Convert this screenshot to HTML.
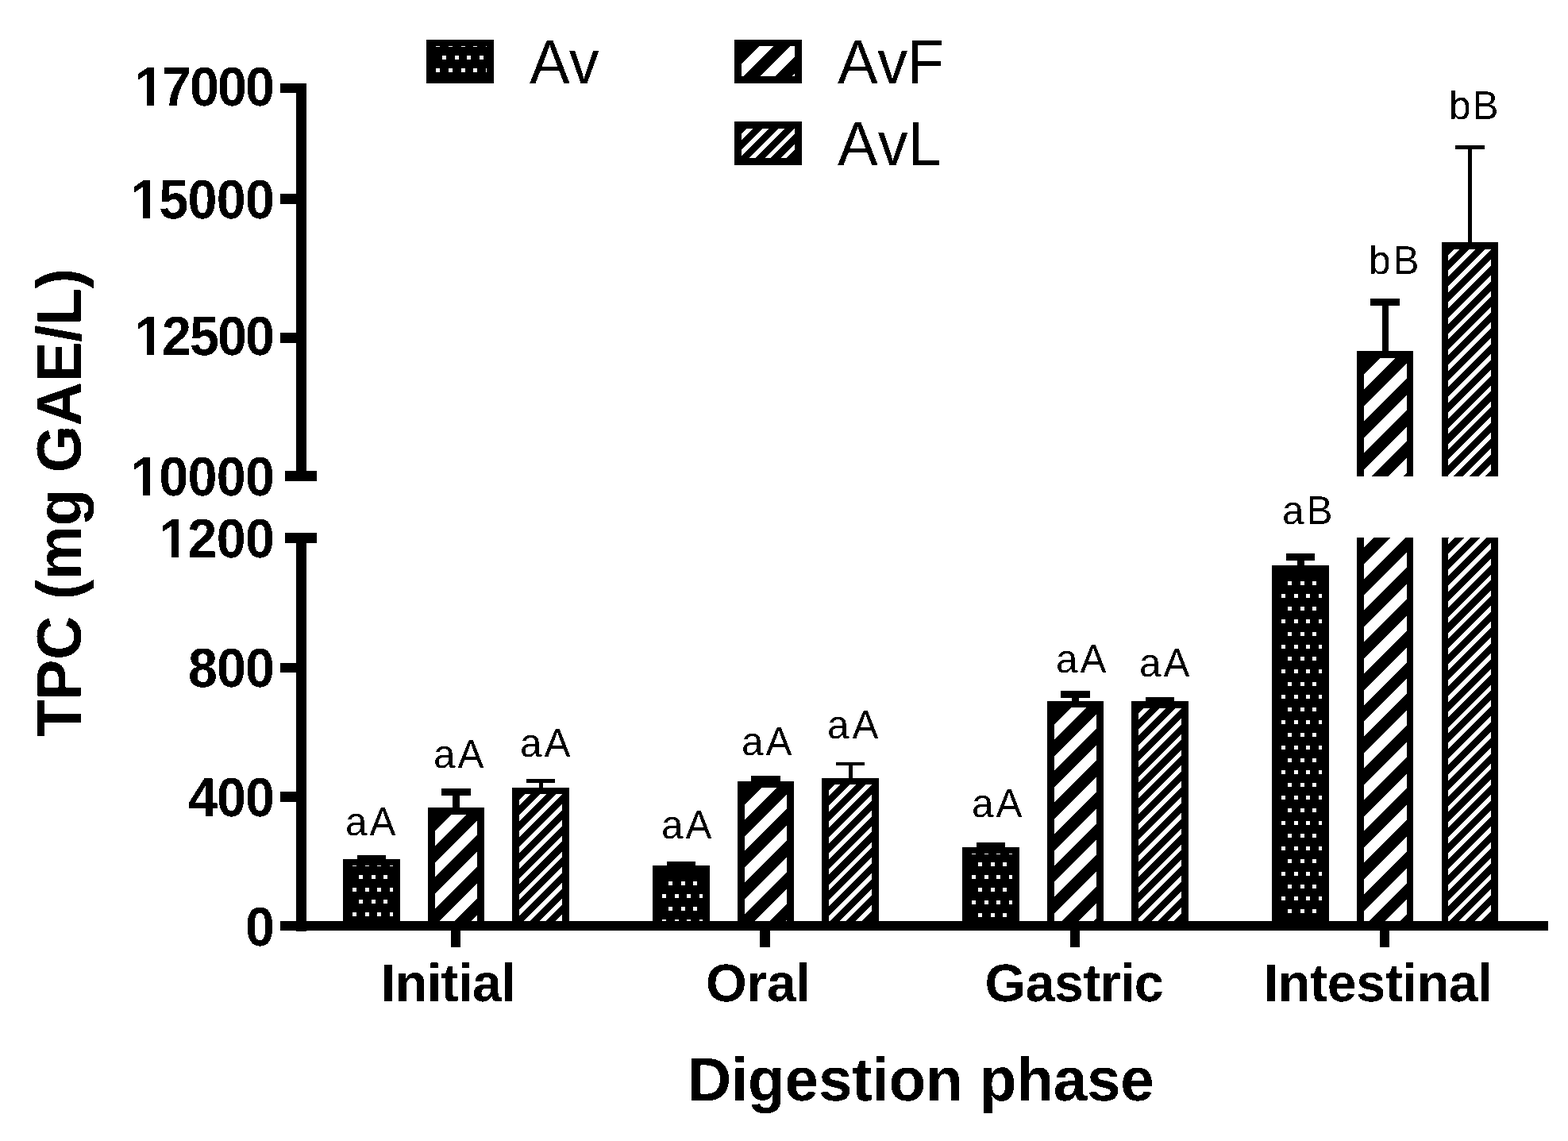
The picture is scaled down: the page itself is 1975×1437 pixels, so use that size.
<!DOCTYPE html>
<html lang="en">
<head>
<meta charset="utf-8">
<title>TPC (mg GAE/L) by digestion phase</title>
<style>
html,body{margin:0;padding:0;background:#fff;}
body{width:1975px;height:1437px;}
svg{display:block;}
text{font-family:'Liberation Sans', Arial, Helvetica, sans-serif;fill:#000;white-space:pre;font-kerning:none;text-rendering:geometricPrecision;}
.b{font-weight:bold;}
</style>
</head>
<body>
<svg width="1975" height="1437" viewBox="0 0 1975 1437">
<rect width="1975" height="1437" fill="#fff"/>
<g shape-rendering="crispEdges" fill="#000">
<!-- bars -->
<rect x="432" y="1082" width="72" height="84"/><svg x="441" y="1090" width="54" height="76" viewBox="9 8 54 76" overflow="hidden"><path fill="#fff" d="M-4 4h5v5h-5zM12 4h5v5h-5zM28 4h5v5h-5zM43 4h5v5h-5zM59 4h5v5h-5zM4 20h5v5h-5zM20 20h5v5h-5zM36 20h5v5h-5zM51 20h5v5h-5zM67 20h5v5h-5zM-4 36h5v5h-5zM12 36h5v5h-5zM28 36h5v5h-5zM43 36h5v5h-5zM59 36h5v5h-5zM4 51h5v5h-5zM20 51h5v5h-5zM36 51h5v5h-5zM51 51h5v5h-5zM67 51h5v5h-5zM-4 67h5v5h-5zM12 67h5v5h-5zM28 67h5v5h-5zM43 67h5v5h-5zM59 67h5v5h-5zM4 83h5v5h-5zM20 83h5v5h-5zM36 83h5v5h-5zM51 83h5v5h-5zM67 83h5v5h-5z"/></svg>
<rect x="539" y="1017" width="71" height="149"/><svg x="548" y="1026" width="53" height="140" viewBox="9 9 53 140" overflow="hidden"><path fill="#fff" d="M0 0L17.5 0L0 17.5L0 0zM38.32 0L57.22 0L0 57.22L0 38.32zM78.04 0L96.94 0L0 96.94L0 78.04zM117.76 0L136.66 0L0 136.66L0 117.76zM157.48 0L176.38 0L0 176.38L0 157.48zM197.2 0L216.1 0L0 216.1L0 197.2z"/></svg>
<rect x="645" y="992" width="72" height="174"/><svg x="654" y="1000" width="54" height="166" viewBox="9 8 54 166" overflow="hidden"><path fill="#fff" d="M4.3 0L11.9 0L0 11.9L0 4.3zM24.13 0L31.73 0L0 31.73L0 24.13zM43.96 0L51.56 0L0 51.56L0 43.96zM63.8 0L71.4 0L0 71.4L0 63.8zM83.63 0L91.23 0L0 91.23L0 83.63zM103.46 0L111.06 0L0 111.06L0 103.46zM123.29 0L130.89 0L0 130.89L0 123.29zM143.12 0L150.72 0L0 150.72L0 143.12zM162.96 0L170.56 0L0 170.56L0 162.96zM182.79 0L190.39 0L0 190.39L0 182.79zM202.62 0L210.22 0L0 210.22L0 202.62zM222.45 0L230.05 0L0 230.05L0 222.45zM242.28 0L249.88 0L0 249.88L0 242.28z"/></svg>
<rect x="822" y="1090" width="72" height="76"/><svg x="831" y="1099" width="54" height="67" viewBox="9 9 54 67" overflow="hidden"><path fill="#fff" d="M-4 4h5v5h-5zM12 4h5v5h-5zM28 4h5v5h-5zM43 4h5v5h-5zM59 4h5v5h-5zM4 20h5v5h-5zM20 20h5v5h-5zM36 20h5v5h-5zM51 20h5v5h-5zM67 20h5v5h-5zM-4 36h5v5h-5zM12 36h5v5h-5zM28 36h5v5h-5zM43 36h5v5h-5zM59 36h5v5h-5zM4 52h5v5h-5zM20 52h5v5h-5zM36 52h5v5h-5zM51 52h5v5h-5zM67 52h5v5h-5zM-4 68h5v5h-5zM12 68h5v5h-5zM28 68h5v5h-5zM43 68h5v5h-5zM59 68h5v5h-5z"/></svg>
<rect x="929" y="984" width="71" height="182"/><svg x="938" y="992" width="53" height="174" viewBox="9 8 53 174" overflow="hidden"><path fill="#fff" d="M0 0L17.5 0L0 17.5L0 0zM38.32 0L57.22 0L0 57.22L0 38.32zM78.04 0L96.94 0L0 96.94L0 78.04zM117.76 0L136.66 0L0 136.66L0 117.76zM157.48 0L176.38 0L0 176.38L0 157.48zM197.2 0L216.1 0L0 216.1L0 197.2zM236.92 0L255.82 0L0 255.82L0 236.92z"/></svg>
<rect x="1035" y="980" width="72" height="186"/><svg x="1044" y="988" width="54" height="178" viewBox="9 8 54 178" overflow="hidden"><path fill="#fff" d="M4.3 0L11.9 0L0 11.9L0 4.3zM24.13 0L31.73 0L0 31.73L0 24.13zM43.96 0L51.56 0L0 51.56L0 43.96zM63.8 0L71.4 0L0 71.4L0 63.8zM83.63 0L91.23 0L0 91.23L0 83.63zM103.46 0L111.06 0L0 111.06L0 103.46zM123.29 0L130.89 0L0 130.89L0 123.29zM143.12 0L150.72 0L0 150.72L0 143.12zM162.96 0L170.56 0L0 170.56L0 162.96zM182.79 0L190.39 0L0 190.39L0 182.79zM202.62 0L210.22 0L0 210.22L0 202.62zM222.45 0L230.05 0L0 230.05L0 222.45zM242.28 0L249.88 0L0 249.88L0 242.28z"/></svg>
<rect x="1212" y="1067" width="72" height="99"/><svg x="1221" y="1075" width="54" height="91" viewBox="9 8 54 91" overflow="hidden"><path fill="#fff" d="M-4 4h5v5h-5zM12 4h5v5h-5zM28 4h5v5h-5zM43 4h5v5h-5zM59 4h5v5h-5zM4 19h5v5h-5zM20 19h5v5h-5zM36 19h5v5h-5zM51 19h5v5h-5zM67 19h5v5h-5zM-4 35h5v5h-5zM12 35h5v5h-5zM28 35h5v5h-5zM43 35h5v5h-5zM59 35h5v5h-5zM4 51h5v5h-5zM20 51h5v5h-5zM36 51h5v5h-5zM51 51h5v5h-5zM67 51h5v5h-5zM-4 67h5v5h-5zM12 67h5v5h-5zM28 67h5v5h-5zM43 67h5v5h-5zM59 67h5v5h-5zM4 83h5v5h-5zM20 83h5v5h-5zM36 83h5v5h-5zM51 83h5v5h-5zM67 83h5v5h-5zM-4 99h5v5h-5zM12 99h5v5h-5zM28 99h5v5h-5zM43 99h5v5h-5zM59 99h5v5h-5z"/></svg>
<rect x="1319" y="883" width="71" height="283"/><svg x="1328" y="891" width="53" height="275" viewBox="9 8 53 275" overflow="hidden"><path fill="#fff" d="M0 0L17.5 0L0 17.5L0 0zM38.32 0L57.22 0L0 57.22L0 38.32zM78.04 0L96.94 0L0 96.94L0 78.04zM117.76 0L136.66 0L0 136.66L0 117.76zM157.48 0L176.38 0L0 176.38L0 157.48zM197.2 0L216.1 0L0 216.1L0 197.2zM236.92 0L255.82 0L0 255.82L0 236.92zM276.64 0L295.54 0L0 295.54L0 276.64zM316.36 0L335.26 0L0 335.26L0 316.36z"/></svg>
<rect x="1425" y="883" width="72" height="283"/><svg x="1434" y="892" width="54" height="274" viewBox="9 9 54 274" overflow="hidden"><path fill="#fff" d="M5.1 0L12.7 0L0 12.7L0 5.1zM24.93 0L32.53 0L0 32.53L0 24.93zM44.76 0L52.36 0L0 52.36L0 44.76zM64.6 0L72.2 0L0 72.2L0 64.6zM84.43 0L92.03 0L0 92.03L0 84.43zM104.26 0L111.86 0L0 111.86L0 104.26zM124.09 0L131.69 0L0 131.69L0 124.09zM143.92 0L151.52 0L0 151.52L0 143.92zM163.76 0L171.36 0L0 171.36L0 163.76zM183.59 0L191.19 0L0 191.19L0 183.59zM203.42 0L211.02 0L0 211.02L0 203.42zM223.25 0L230.85 0L0 230.85L0 223.25zM243.08 0L250.68 0L0 250.68L0 243.08zM262.92 0L270.52 0L0 270.52L0 262.92zM282.75 0L290.35 0L0 290.35L0 282.75zM302.58 0L310.18 0L0 310.18L0 302.58zM322.41 0L330.01 0L0 330.01L0 322.41zM342.24 0L349.84 0L0 349.84L0 342.24z"/></svg>
<rect x="1602" y="712" width="72" height="454"/><svg x="1611" y="721" width="54" height="445" viewBox="9 9 54 445" overflow="hidden"><path fill="#fff" d="M-4 4h5v5h-5zM12 4h5v5h-5zM28 4h5v5h-5zM43 4h5v5h-5zM59 4h5v5h-5zM4 20h5v5h-5zM20 20h5v5h-5zM36 20h5v5h-5zM51 20h5v5h-5zM67 20h5v5h-5zM-4 36h5v5h-5zM12 36h5v5h-5zM28 36h5v5h-5zM43 36h5v5h-5zM59 36h5v5h-5zM4 52h5v5h-5zM20 52h5v5h-5zM36 52h5v5h-5zM51 52h5v5h-5zM67 52h5v5h-5zM-4 68h5v5h-5zM12 68h5v5h-5zM28 68h5v5h-5zM43 68h5v5h-5zM59 68h5v5h-5zM4 84h5v5h-5zM20 84h5v5h-5zM36 84h5v5h-5zM51 84h5v5h-5zM67 84h5v5h-5zM-4 100h5v5h-5zM12 100h5v5h-5zM28 100h5v5h-5zM43 100h5v5h-5zM59 100h5v5h-5zM4 115h5v5h-5zM20 115h5v5h-5zM36 115h5v5h-5zM51 115h5v5h-5zM67 115h5v5h-5zM-4 131h5v5h-5zM12 131h5v5h-5zM28 131h5v5h-5zM43 131h5v5h-5zM59 131h5v5h-5zM4 147h5v5h-5zM20 147h5v5h-5zM36 147h5v5h-5zM51 147h5v5h-5zM67 147h5v5h-5zM-4 163h5v5h-5zM12 163h5v5h-5zM28 163h5v5h-5zM43 163h5v5h-5zM59 163h5v5h-5zM4 179h5v5h-5zM20 179h5v5h-5zM36 179h5v5h-5zM51 179h5v5h-5zM67 179h5v5h-5zM-4 195h5v5h-5zM12 195h5v5h-5zM28 195h5v5h-5zM43 195h5v5h-5zM59 195h5v5h-5zM4 211h5v5h-5zM20 211h5v5h-5zM36 211h5v5h-5zM51 211h5v5h-5zM67 211h5v5h-5zM-4 227h5v5h-5zM12 227h5v5h-5zM28 227h5v5h-5zM43 227h5v5h-5zM59 227h5v5h-5zM4 243h5v5h-5zM20 243h5v5h-5zM36 243h5v5h-5zM51 243h5v5h-5zM67 243h5v5h-5zM-4 258h5v5h-5zM12 258h5v5h-5zM28 258h5v5h-5zM43 258h5v5h-5zM59 258h5v5h-5zM4 274h5v5h-5zM20 274h5v5h-5zM36 274h5v5h-5zM51 274h5v5h-5zM67 274h5v5h-5zM-4 290h5v5h-5zM12 290h5v5h-5zM28 290h5v5h-5zM43 290h5v5h-5zM59 290h5v5h-5zM4 306h5v5h-5zM20 306h5v5h-5zM36 306h5v5h-5zM51 306h5v5h-5zM67 306h5v5h-5zM-4 322h5v5h-5zM12 322h5v5h-5zM28 322h5v5h-5zM43 322h5v5h-5zM59 322h5v5h-5zM4 338h5v5h-5zM20 338h5v5h-5zM36 338h5v5h-5zM51 338h5v5h-5zM67 338h5v5h-5zM-4 354h5v5h-5zM12 354h5v5h-5zM28 354h5v5h-5zM43 354h5v5h-5zM59 354h5v5h-5zM4 370h5v5h-5zM20 370h5v5h-5zM36 370h5v5h-5zM51 370h5v5h-5zM67 370h5v5h-5zM-4 386h5v5h-5zM12 386h5v5h-5zM28 386h5v5h-5zM43 386h5v5h-5zM59 386h5v5h-5zM4 402h5v5h-5zM20 402h5v5h-5zM36 402h5v5h-5zM51 402h5v5h-5zM67 402h5v5h-5zM-4 417h5v5h-5zM12 417h5v5h-5zM28 417h5v5h-5zM43 417h5v5h-5zM59 417h5v5h-5zM4 433h5v5h-5zM20 433h5v5h-5zM36 433h5v5h-5zM51 433h5v5h-5zM67 433h5v5h-5zM-4 449h5v5h-5zM12 449h5v5h-5zM28 449h5v5h-5zM43 449h5v5h-5zM59 449h5v5h-5z"/></svg>
<rect x="1709" y="442" width="71" height="724"/><svg x="1718" y="451" width="54" height="715" viewBox="9 9 54 715" overflow="hidden"><path fill="#fff" d="M0 0L17.9 0L0 17.9L0 0zM38.92 0L57.82 0L0 57.82L0 38.92zM78.64 0L97.54 0L0 97.54L0 78.64zM118.36 0L137.26 0L0 137.26L0 118.36zM158.08 0L176.98 0L0 176.98L0 158.08zM197.8 0L216.7 0L0 216.7L0 197.8zM237.52 0L256.42 0L0 256.42L0 237.52zM277.24 0L296.14 0L0 296.14L0 277.24zM316.96 0L335.86 0L0 335.86L0 316.96zM356.68 0L375.58 0L0 375.58L0 356.68zM396.4 0L415.3 0L0 415.3L0 396.4zM436.12 0L455.02 0L0 455.02L0 436.12zM475.84 0L494.74 0L0 494.74L0 475.84zM515.56 0L534.46 0L0 534.46L0 515.56zM555.28 0L574.18 0L0 574.18L0 555.28zM595 0L613.9 0L0 613.9L0 595zM634.72 0L653.62 0L0 653.62L0 634.72zM674.44 0L693.34 0L0 693.34L0 674.44zM714.16 0L733.06 0L0 733.06L0 714.16zM753.88 0L772.78 0L0 772.78L0 753.88zM793.6 0L812.5 0L0 812.5L0 793.6z"/></svg>
<rect x="1816" y="305" width="71" height="861"/><svg x="1824" y="314" width="54" height="852" viewBox="8 9 54 852" overflow="hidden"><path fill="#fff" d="M4.3 0L11.9 0L0 11.9L0 4.3zM24.13 0L31.73 0L0 31.73L0 24.13zM43.96 0L51.56 0L0 51.56L0 43.96zM63.8 0L71.4 0L0 71.4L0 63.8zM83.63 0L91.23 0L0 91.23L0 83.63zM103.46 0L111.06 0L0 111.06L0 103.46zM123.29 0L130.89 0L0 130.89L0 123.29zM143.12 0L150.72 0L0 150.72L0 143.12zM162.96 0L170.56 0L0 170.56L0 162.96zM182.79 0L190.39 0L0 190.39L0 182.79zM202.62 0L210.22 0L0 210.22L0 202.62zM222.45 0L230.05 0L0 230.05L0 222.45zM242.28 0L249.88 0L0 249.88L0 242.28zM262.12 0L269.72 0L0 269.72L0 262.12zM281.95 0L289.55 0L0 289.55L0 281.95zM301.78 0L309.38 0L0 309.38L0 301.78zM321.61 0L329.21 0L0 329.21L0 321.61zM341.44 0L349.04 0L0 349.04L0 341.44zM361.28 0L368.88 0L0 368.88L0 361.28zM381.11 0L388.71 0L0 388.71L0 381.11zM400.94 0L408.54 0L0 408.54L0 400.94zM420.77 0L428.37 0L0 428.37L0 420.77zM440.6 0L448.2 0L0 448.2L0 440.6zM460.44 0L468.04 0L0 468.04L0 460.44zM480.27 0L487.87 0L0 487.87L0 480.27zM500.1 0L507.7 0L0 507.7L0 500.1zM519.93 0L527.53 0L0 527.53L0 519.93zM539.76 0L547.36 0L0 547.36L0 539.76zM559.6 0L567.2 0L0 567.2L0 559.6zM579.43 0L587.03 0L0 587.03L0 579.43zM599.26 0L606.86 0L0 606.86L0 599.26zM619.09 0L626.69 0L0 626.69L0 619.09zM638.92 0L646.52 0L0 646.52L0 638.92zM658.76 0L666.36 0L0 666.36L0 658.76zM678.59 0L686.19 0L0 686.19L0 678.59zM698.42 0L706.02 0L0 706.02L0 698.42zM718.25 0L725.85 0L0 725.85L0 718.25zM738.08 0L745.68 0L0 745.68L0 738.08zM757.92 0L765.52 0L0 765.52L0 757.92zM777.75 0L785.35 0L0 785.35L0 777.75zM797.58 0L805.18 0L0 805.18L0 797.58zM817.41 0L825.01 0L0 825.01L0 817.41zM837.24 0L844.84 0L0 844.84L0 837.24zM857.08 0L864.68 0L0 864.68L0 857.08zM876.91 0L884.51 0L0 884.51L0 876.91zM896.74 0L904.34 0L0 904.34L0 896.74zM916.57 0L924.17 0L0 924.17L0 916.57z"/></svg>
<!-- axis break gap -->
<rect x="1690" y="600" width="220" height="77" fill="#fff"/>
<!-- error bars -->
<path d="M450 1077h36v9h-13V1084h-9V1086H450z"/>
<path d="M556 993h37v9h-14V1019h-9V1002H556z"/>
<path d="M663 981h36v5h-15V994h-5V986H663z"/>
<path d="M840 1085h36v9h-13V1092h-9V1094H840z"/>
<path d="M946 977h37v9h-14V986h-9V986H946z"/>
<path d="M1053 960h36v4h-15V982h-5V964H1053z"/>
<path d="M1230 1061h36v9h-13V1069h-9V1070H1230z"/>
<path d="M1336 870h37v9h-14V885h-9V879H1336z"/>
<path d="M1443 878h36v5h-15V885h-5V883H1443z"/>
<path d="M1620 697h36v9h-13V714h-9V706H1620z"/>
<path d="M1726 376h37v9h-14V444h-8V385H1726z"/>
<path d="M1833 183h37v5h-16V307h-5V188H1833z"/>
<!-- legend swatches -->
<rect x="537" y="50" width="85" height="55"/><svg x="546" y="58" width="67" height="38" viewBox="9 8 67 38" overflow="hidden"><path fill="#fff" d="M-4 4h5v5h-5zM12 4h5v5h-5zM28 4h5v5h-5zM44 4h5v5h-5zM59 4h5v5h-5zM75 4h5v5h-5zM4 20h5v5h-5zM20 20h5v5h-5zM36 20h5v5h-5zM51 20h5v5h-5zM67 20h5v5h-5zM83 20h5v5h-5zM-4 36h5v5h-5zM12 36h5v5h-5zM28 36h5v5h-5zM44 36h5v5h-5zM59 36h5v5h-5zM75 36h5v5h-5zM4 52h5v5h-5zM20 52h5v5h-5zM36 52h5v5h-5zM51 52h5v5h-5zM67 52h5v5h-5zM83 52h5v5h-5z"/></svg>
<rect x="925" y="50" width="85" height="55"/><svg x="934" y="58" width="67" height="38" viewBox="9 8 67 38" overflow="hidden"><path fill="#fff" d="M0 0L17.9 0L0 17.9L0 0zM39.02 0L57.92 0L0 57.92L0 39.02zM78.74 0L97.64 0L0 97.64L0 78.74zM118.46 0L137.36 0L0 137.36L0 118.46z"/></svg>
<rect x="925" y="153" width="85" height="55"/><svg x="934" y="162" width="67" height="37" viewBox="9 9 67 37" overflow="hidden"><path fill="#fff" d="M4.9 0L12.5 0L0 12.5L0 4.9zM24.73 0L32.33 0L0 32.33L0 24.73zM44.56 0L52.16 0L0 52.16L0 44.56zM64.4 0L72 0L0 72L0 64.4zM84.23 0L91.83 0L0 91.83L0 84.23zM104.06 0L111.66 0L0 111.66L0 104.06zM123.89 0L131.49 0L0 131.49L0 123.89z"/></svg>
<!-- axes -->
<rect x="373" y="105" width="13" height="501"/>
<rect x="373" y="671" width="13" height="502"/>
<rect x="353" y="105" width="20" height="12"/><rect x="353" y="244" width="20" height="13"/><rect x="353" y="419" width="20" height="13"/><rect x="353" y="835" width="20" height="12"/><rect x="353" y="997" width="20" height="13"/>
<rect x="359" y="593" width="40" height="13"/><rect x="359" y="671" width="40" height="13"/>
<rect x="353" y="1160" width="1597" height="12"/>
<rect x="568" y="1172" width="12" height="21"/><rect x="957" y="1172" width="13" height="21"/><rect x="1348" y="1172" width="12" height="21"/><rect x="1738" y="1172" width="12" height="21"/>
</g>
<!-- text (thresholded to 1-bit like the source image) -->
<defs><filter id="bw" filterUnits="userSpaceOnUse" x="0" y="0" width="1975" height="1437" color-interpolation-filters="sRGB"><feComponentTransfer><feFuncA type="discrete" tableValues="0 1"/></feComponentTransfer></filter></defs>
<g filter="url(#bw)">
<text class="b" font-size="66.5" transform="translate(173.8 133) translate(-5) scale(1 1.045)" letter-spacing="-1.95" dx="0.7 -0.7">17000</text>
<text class="b" font-size="66.5" transform="translate(169 275) translate(-5) scale(1 1.045)" letter-spacing="-0.75" dx="0.7 -0.7">15000</text>
<text class="b" font-size="66.5" transform="translate(174 447) translate(-5) scale(1 1.045)" letter-spacing="-2" dx="0.7 -0.7">12500</text>
<text class="b" font-size="66.5" transform="translate(169 624) translate(-5) scale(1 1.045)" letter-spacing="-0.75" dx="0.7 -0.7">10000</text>
<text class="b" font-size="66.5" transform="translate(205 702) translate(-5) scale(1 1.045)" letter-spacing="-0.67" dx="0.7 -0.7">1200</text>
<text class="b" font-size="66.5" transform="translate(239 865) translate(-2) scale(1 1.045)" letter-spacing="-1">800</text>
<text class="b" font-size="66.5" transform="translate(238 1028) translate(-1) scale(1 1.045)" letter-spacing="-1">400</text>
<text class="b" font-size="66.5" transform="translate(312 1191) translate(-3) scale(1 1.045)">0</text>
<text class="b" font-size="66.5" transform="translate(483.8 1261) translate(-4) scale(1 1.01)" letter-spacing="-0.6">Initial</text>
<text class="b" font-size="66.5" transform="translate(892 1261) translate(-3) scale(1 1.01)" letter-spacing="-0.33">Oral</text>
<text class="b" font-size="66.5" transform="translate(1243.6 1261) translate(-3) scale(1 1.01)" letter-spacing="-0.67">Gastric</text>
<text class="b" font-size="66.5" transform="translate(1595.6 1261) translate(-4) scale(1 1.01)" letter-spacing="-0.4">Intestinal</text>
<text class="b" font-size="76.5" transform="translate(871 1386) translate(-5) scale(1 1.01)" letter-spacing="-0.21">Digestion phase</text>
<text font-size="76" transform="translate(667 105) translate(0) scale(1 1.03)" letter-spacing="-1">Av</text>
<text font-size="76" transform="translate(1055 105) translate(0) scale(1 1.03)" letter-spacing="-0.5">AvF</text>
<text font-size="76" transform="translate(1055 208) translate(0) scale(1 1.03)">AvL</text>
<text font-size="49.5" transform="translate(437 1052) translate(-2) scale(1 1.02)" letter-spacing="3">aA</text>
<text font-size="49.5" transform="translate(548 967) translate(-2) scale(1 1.02)" letter-spacing="3">aA</text>
<text font-size="49.5" transform="translate(657 953) translate(-2) scale(1 1.02)" letter-spacing="3">aA</text>
<text font-size="49.5" transform="translate(835 1056) translate(-2) scale(1 1.02)" letter-spacing="3">aA</text>
<text font-size="49.5" transform="translate(936 951) translate(-2) scale(1 1.02)" letter-spacing="3">aA</text>
<text font-size="49.5" transform="translate(1044 930) translate(-2) scale(1 1.02)" letter-spacing="4">aA</text>
<text font-size="49.5" transform="translate(1226 1029) translate(-2) scale(1 1.02)" letter-spacing="3">aA</text>
<text font-size="49.5" transform="translate(1332 847) translate(-2) scale(1 1.02)" letter-spacing="3">aA</text>
<text font-size="49.5" transform="translate(1437 852) translate(-2) scale(1 1.02)" letter-spacing="3">aA</text>
<text font-size="49.5" transform="translate(1617 660) translate(-2) scale(1 1.02)" letter-spacing="3">aB</text>
<text font-size="49.5" transform="translate(1727 345) translate(-3) scale(1 1.02)" letter-spacing="3">bB</text>
<text font-size="49.5" transform="translate(1828 150) translate(-3) scale(1 1.02)" letter-spacing="2">bB</text>
<text class="b" font-size="76.5" transform="translate(102 927) rotate(-90) translate(-1) scale(1 1.035)" letter-spacing="-0.38">TPC (mg GAE/L)</text>
</g>
<!-- Arial-style "1": cover the foot serif that Liberation Sans adds -->
<path shape-rendering="crispEdges" fill="#fff" d="M172.75 124.91H185.02V134H172.75zM194.15 124.91H205.54V134H194.15zM167.95 266.91H180.22V276H167.95zM189.35 266.91H200.74V276H189.35zM172.95 438.91H185.22V448H172.95zM194.35 438.91H205.74V448H194.35zM167.95 615.91H180.22V625H167.95zM189.35 615.91H200.74V625H189.35zM203.95 693.91H216.22V703H203.95zM225.35 693.91H236.74V703H225.35z"/>
</svg>
</body>
</html>
